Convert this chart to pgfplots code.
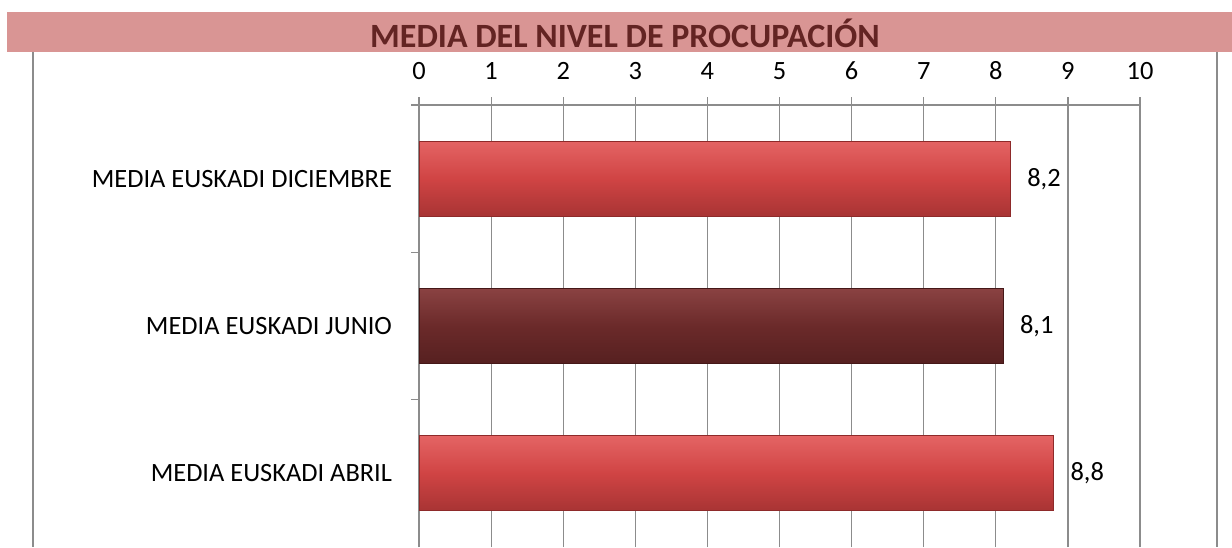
\documentclass[border=0pt]{standalone}
\usepackage{fontspec}
\setmainfont{Carlito}
\usepackage{pgfplots}
\pgfplotsset{compat=1.18}
\definecolor{band}{HTML}{D99594}
\definecolor{titlered}{HTML}{632423}
\definecolor{gridgray}{HTML}{8C8C8C}
\definecolor{redtop}{HTML}{E46464}
\definecolor{redmid}{HTML}{D04444}
\definecolor{redbot}{HTML}{A83434}
\definecolor{redline}{HTML}{8E2A2A}
\definecolor{martop}{HTML}{8A4242}
\definecolor{marmid}{HTML}{6B2A2A}
\definecolor{marbot}{HTML}{562020}
\definecolor{marline}{HTML}{451818}
\begin{document}
\begin{tikzpicture}
\path[use as bounding box] (0,0) rectangle (616pt,-273.5pt);
% title band
\fill[band] (3.5pt,-6pt) rectangle (616pt,-26pt);
\node[text=titlered,font=\fontsize{17}{19}\selectfont\bfseries] at (312.5pt,-16.5pt) {MEDIA DEL NIVEL DE PROCUPACIÓN};
% chart area frame
\draw[gridgray,line width=0.6pt] (16.5pt,-26pt) -- (16.5pt,-273.5pt);
\draw[gridgray,line width=0.6pt] (608.5pt,-26pt) -- (608.5pt,-273.5pt);
\begin{axis}[
  at={(209.5pt,-273.5pt)}, anchor=south west,
  scale only axis, width=360.5pt, height=221pt,
  xbar, bar width=37.5pt, bar shift=0pt,
  xmin=0, xmax=10, ymin=-0.5, ymax=2.5,
  axis x line*=top, axis y line*=left,
  axis line style={gridgray,line width=0.6pt,-},
  xtick={0,1,...,10},
  xmajorgrids, grid style={gridgray,line width=0.6pt},
  tick align=outside, major tick length=4pt,
  tick style={gridgray,line width=0.6pt},
  ytick={0.5,1.5,2.5}, yticklabels={},
  extra y ticks={0,1,2},
  extra y tick labels={MEDIA EUSKADI ABRIL,MEDIA EUSKADI JUNIO,MEDIA EUSKADI DICIEMBRE},
  extra y tick style={tick style={draw=none}, grid=none},
  ticklabel style={font=\fontsize{13.2}{15}\selectfont, text=black},
  xticklabel style={yshift=5pt},
  yticklabel style={xshift=-6pt},
  /pgf/number format/assume math mode=true,
  /pgf/number format/use comma,
  point meta=x,
  nodes near coords={\pgfmathprintnumber[fixed,precision=1,fixed zerofill]{\pgfplotspointmeta}},
  nodes near coords style={font=\fontsize{13.2}{15}\selectfont, text=black, anchor=west, xshift=5pt},
]
\addplot[draw=redline, top color=redtop, bottom color=redbot, middle color=redmid] coordinates {(8.8,0)};
\addplot[draw=marline, top color=martop, bottom color=marbot, middle color=marmid] coordinates {(8.1,1)};
\addplot[draw=redline, top color=redtop, bottom color=redbot, middle color=redmid] coordinates {(8.2,2)};
\end{axis}
\end{tikzpicture}
\end{document}
